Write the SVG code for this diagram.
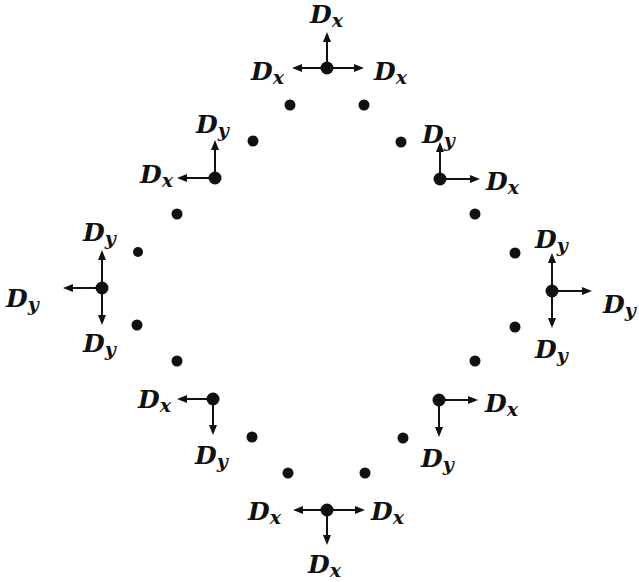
<svg xmlns="http://www.w3.org/2000/svg" width="639" height="582" viewBox="0 0 639 582">
<style>
.lbl{font-family:"DejaVu Serif","Liberation Serif",serif;font-style:italic;font-weight:bold;font-size:25px;fill:#111}
.sub{font-size:19px}
.dot{fill:#111}
.ar{stroke:#111;stroke-width:2;fill:none;marker-end:url(#ah)}
</style>
<defs>
<marker id="ah" markerUnits="userSpaceOnUse" markerWidth="12" markerHeight="10" refX="0" refY="5" orient="auto" viewBox="0 0 12 10" overflow="visible">
<path d="M0,1 L10,5 L0,9 z" fill="#111"/>
</marker>
</defs>
<rect width="639" height="582" fill="#fff"/>
<g id="points">
<circle class="dot" cx="290" cy="105" r="5.5"/>
<circle class="dot" cx="364" cy="105" r="5.5"/>
<circle class="dot" cx="253" cy="141" r="5.5"/>
<circle class="dot" cx="401" cy="142" r="5.5"/>
<circle class="dot" cx="177" cy="214" r="5.5"/>
<circle class="dot" cx="475" cy="214" r="5.5"/>
<circle class="dot" cx="138" cy="252" r="5"/>
<circle class="dot" cx="515" cy="253" r="5.5"/>
<circle class="dot" cx="137" cy="325" r="5.5"/>
<circle class="dot" cx="515" cy="327" r="5.5"/>
<circle class="dot" cx="177" cy="361" r="5.5"/>
<circle class="dot" cx="475" cy="361" r="5.5"/>
<circle class="dot" cx="252" cy="437" r="5.5"/>
<circle class="dot" cx="403" cy="438" r="5.5"/>
<circle class="dot" cx="288" cy="473" r="5.5"/>
<circle class="dot" cx="365" cy="473" r="5.5"/>
</g>
<g id="connectors">
<line class="ar" x1="327" y1="68" x2="327" y2="42"/>
<line class="ar" x1="327" y1="68" x2="302" y2="68"/>
<line class="ar" x1="327" y1="68" x2="354" y2="68"/>
<line class="ar" x1="215" y1="178" x2="215" y2="150"/>
<line class="ar" x1="215" y1="178" x2="187" y2="178"/>
<line class="ar" x1="440" y1="179" x2="440" y2="152"/>
<line class="ar" x1="440" y1="179" x2="470" y2="179"/>
<line class="ar" x1="102" y1="288" x2="102" y2="260"/>
<line class="ar" x1="102" y1="288" x2="73" y2="288"/>
<line class="ar" x1="102" y1="288" x2="102" y2="315"/>
<line class="ar" x1="552" y1="291" x2="552" y2="263"/>
<line class="ar" x1="552" y1="291" x2="582" y2="291"/>
<line class="ar" x1="552" y1="291" x2="552" y2="318"/>
<line class="ar" x1="213" y1="399" x2="187" y2="399"/>
<line class="ar" x1="213" y1="399" x2="213" y2="425"/>
<line class="ar" x1="439" y1="400" x2="468" y2="400"/>
<line class="ar" x1="439" y1="400" x2="439" y2="427"/>
<line class="ar" x1="327" y1="510" x2="303" y2="510"/>
<line class="ar" x1="327" y1="510" x2="355" y2="510"/>
<line class="ar" x1="327" y1="510" x2="327" y2="535"/>
</g>
<g id="node-top">
<circle class="dot" cx="327" cy="68" r="6.5"/>
<text class="lbl" x="310" y="23">D<tspan class="sub" dy="4">x</tspan></text>
<text class="lbl" x="251" y="80">D<tspan class="sub" dy="4">x</tspan></text>
<text class="lbl" x="374" y="80">D<tspan class="sub" dy="4">x</tspan></text>
</g>
<g id="node-upper-left">
<circle class="dot" cx="215" cy="178" r="6.5"/>
<text class="lbl" x="196" y="133">D<tspan class="sub" dy="4">y</tspan></text>
<text class="lbl" x="140" y="183">D<tspan class="sub" dy="4">x</tspan></text>
</g>
<g id="node-upper-right">
<circle class="dot" cx="440" cy="179" r="6.5"/>
<text class="lbl" x="422" y="143">D<tspan class="sub" dy="4">y</tspan></text>
<text class="lbl" x="486" y="190">D<tspan class="sub" dy="4">x</tspan></text>
</g>
<g id="node-left">
<circle class="dot" cx="102" cy="288" r="6.5"/>
<text class="lbl" x="83" y="241">D<tspan class="sub" dy="4">y</tspan></text>
<text class="lbl" x="6" y="307">D<tspan class="sub" dy="4">y</tspan></text>
<text class="lbl" x="83" y="352">D<tspan class="sub" dy="4">y</tspan></text>
</g>
<g id="node-right">
<circle class="dot" cx="552" cy="291" r="6.5"/>
<text class="lbl" x="535" y="248">D<tspan class="sub" dy="4">y</tspan></text>
<text class="lbl" x="603" y="313">D<tspan class="sub" dy="4">y</tspan></text>
<text class="lbl" x="535" y="358">D<tspan class="sub" dy="4">y</tspan></text>
</g>
<g id="node-lower-left">
<circle class="dot" cx="213" cy="399" r="6.5"/>
<text class="lbl" x="138" y="408">D<tspan class="sub" dy="4">x</tspan></text>
<text class="lbl" x="195" y="464">D<tspan class="sub" dy="4">y</tspan></text>
</g>
<g id="node-lower-right">
<circle class="dot" cx="439" cy="400" r="6.5"/>
<text class="lbl" x="485" y="412">D<tspan class="sub" dy="4">x</tspan></text>
<text class="lbl" x="421" y="467">D<tspan class="sub" dy="4">y</tspan></text>
</g>
<g id="node-bottom">
<circle class="dot" cx="327" cy="510" r="6.5"/>
<text class="lbl" x="248" y="520">D<tspan class="sub" dy="4">x</tspan></text>
<text class="lbl" x="371" y="520">D<tspan class="sub" dy="4">x</tspan></text>
<text class="lbl" x="308" y="573">D<tspan class="sub" dy="4">x</tspan></text>
</g>
</svg>
